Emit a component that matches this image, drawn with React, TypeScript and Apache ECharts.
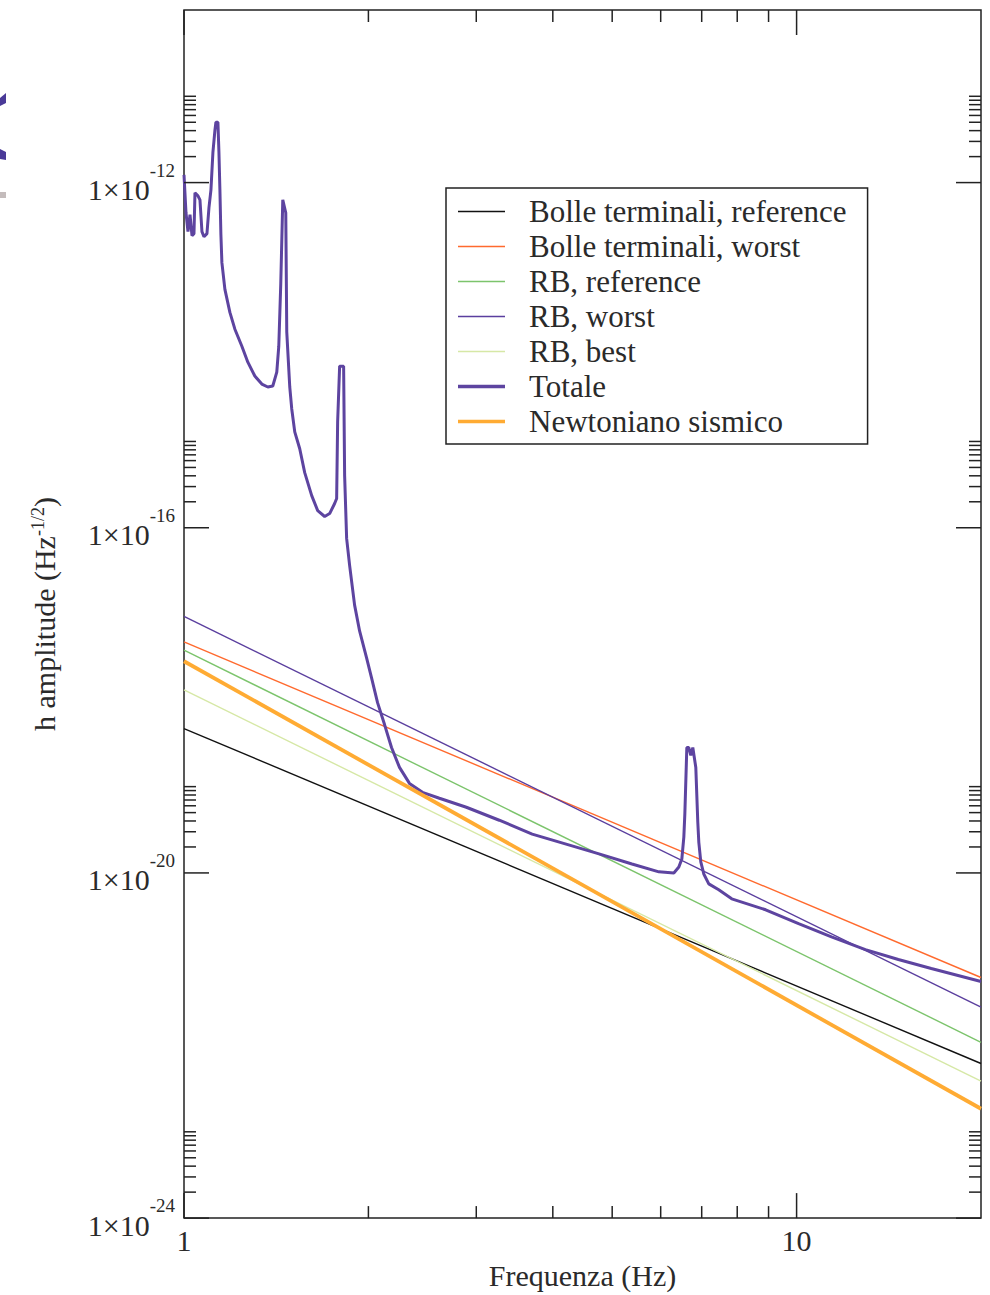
import React, { useEffect, useRef } from "react";
import * as echarts from "echarts";

// ---- Data ----
const seriesNames = [
  "Bolle terminali, reference",
  "Bolle terminali, worst",
  "RB, reference",
  "RB, worst",
  "RB, best",
  "Totale",
  "Newtoniano sismico",
];

// straight power-law lines: values at 1 Hz and 20 Hz
const lineFreqs = [1, 20];
const bolleReference = [4.71e-19, 6.19e-23];
const bolleWorst = [4.75e-18, 6.14e-22];
const rbReference = [3.81e-18, 1.09e-22];
const rbWorst = [9.4e-18, 2.79e-22];
const rbBest = [1.32e-18, 3.87e-23];
const newtoniano = [2.84e-18, 1.85e-23];

// Totale curve
const totaleFreq = [
  1.0, 1.0075, 1.0151, 1.0228, 1.0305, 1.0382, 1.0421, 1.0539, 1.0618, 1.0698,
  1.0779, 1.0901, 1.0983, 1.1066, 1.1149, 1.1233, 1.1275, 1.136, 1.1403, 1.1445,
  1.1488, 1.1531, 1.1662, 1.1883, 1.2108, 1.243, 1.2712, 1.305, 1.3398, 1.3703,
  1.3962, 1.4173, 1.428, 1.4387, 1.4496, 1.466, 1.4715, 1.4881, 1.4993, 1.5163,
  1.545, 1.5742, 1.6161, 1.6529, 1.6968, 1.7289, 1.7616, 1.7749, 1.7816, 1.795,
  1.8221, 1.829, 1.8428, 1.8636, 1.8989, 1.9348, 1.9863, 2.0238, 2.0699, 2.125,
  2.1815, 2.2479, 2.3338, 2.4505, 2.6117, 2.89, 3.2708, 3.7016, 4.205, 4.7588,
  5.3858, 5.9595, 6.3043, 6.4237, 6.4964, 6.5453, 6.5699, 6.6194, 6.6692, 6.7194,
  6.77, 6.8466, 6.8981, 6.924, 6.9762, 7.0551, 7.1887, 7.4633, 7.8362, 8.9019,
  10.075, 11.402, 12.953, 14.659, 16.59, 20,
];
const totaleAmp = [
  1.23e-12, 4.47e-13, 2.7e-13, 4.24e-13, 2.43e-13, 2.56e-13, 7.6e-13, 7.03e-13, 6.31e-13, 2.7e-13,
  2.36e-13, 2.56e-13, 5.1e-13, 8.24e-13, 2.26e-12, 4.06e-12, 5.01e-12, 5.01e-12, 2.26e-12, 8.24e-13,
  2.49e-13, 1.18e-13, 5.78e-14, 3.13e-14, 2.0e-14, 1.27e-14, 8.3e-15, 5.73e-15, 4.63e-15, 4.28e-15,
  4.39e-15, 6.37e-15, 1.27e-14, 6.78e-14, 6.31e-13, 4.47e-13, 1.85e-14, 4.28e-15, 2.38e-15, 1.29e-15,
  8.23e-16, 4.35e-16, 2.36e-16, 1.58e-16, 1.35e-16, 1.46e-16, 1.91e-16, 2.18e-16, 1.69e-15, 7.46e-15,
  7.46e-15, 4.02e-16, 7.53e-17, 3.67e-17, 1.27e-17, 6.37e-18, 3.1e-18, 1.82e-18, 9.4e-19, 5.24e-19,
  2.84e-19, 1.67e-19, 1.09e-19, 8.59e-20, 7.33e-20, 5.77e-20, 4.08e-20, 2.82e-20, 2.16e-20, 1.66e-20,
  1.27e-20, 1.03e-20, 1.0e-20, 1.17e-20, 1.45e-20, 2.6e-20, 4.8e-20, 2.84e-19, 2.84e-19, 2.3e-19,
  2.84e-19, 1.67e-19, 3.87e-20, 2.28e-20, 1.34e-20, 9.73e-21, 7.46e-21, 6.37e-21, 5.01e-21, 3.74e-21,
  2.58e-21, 1.82e-21, 1.29e-21, 9.91e-22, 7.8e-22, 5.52e-22,
];

// axes: x is a log axis; y is shown on a log10 (exponent) scale
const xMin = 1;
const xMax = 20;
const yMinExp = -24;
const yMaxExp = -10;
const yMajorEvery = 4;
const yMajorTicks = [1e-24, 1e-20, 1e-16, 1e-12];
const yMinorMultipliers = [2, 3, 4, 5, 6, 7, 8, 9, 10];
const xMajorTicks = [1, 10];
const xMinorTicks = [2, 3, 4, 5, 6, 7, 8, 9];

const colors = {
  bolleReference: "#111111",
  bolleWorst: "#ff6a2e",
  rbReference: "#7cc46c",
  rbWorst: "#5a3e9e",
  rbBest: "#d6e8a6",
  totale: "#5d44a0",
  newtoniano: "#ffab33",
};

export default function App() {
  const ref = useRef<HTMLDivElement>(null);

  useEffect(() => {
    if (!ref.current) return;
    const chart = echarts.init(ref.current, undefined, { renderer: "svg" });
    const serif = '"Liberation Serif", "Times New Roman", serif';
    const textColor = "#2a2a2a";
    const pairs = (xs: number[], ys: number[]) => xs.map((x, i) => [x, Math.log10(ys[i])]);

    const tickData: number[][] = [];
    yMajorTicks.forEach((m) => {
      tickData.push([xMin, Math.log10(m), 0, 25]);
      yMinorMultipliers.forEach((k) => tickData.push([xMin, Math.log10(m * k), 0, 12]));
    });
    xMajorTicks.forEach((f) => tickData.push([f, yMinExp, 1, 25]));
    xMinorTicks.forEach((f) => tickData.push([f, yMinExp, 1, 12]));

    const lineSeries = (name: string, data: number[][], color: string, width: number, z: number) => ({
      type: "line",
      name,
      data,
      showSymbol: false,
      symbol: "none",
      z,
      lineStyle: { color, width },
      itemStyle: { color },
      emphasis: { disabled: true },
    });

    const thin = "path://M0,0H47V1.5H0Z";
    const thick = "path://M0,0H47V3.5H0Z";
    const legendIcons = [thin, thin, thin, thin, thin, thick, thick];

    const tickStyle = { stroke: "#222222", lineWidth: 1.5 };

    chart.setOption({
      animation: false,
      backgroundColor: "#ffffff",
      grid: {
        left: 184,
        top: 10,
        width: 797,
        height: 1214,
        containLabel: false,
        show: true,
        borderColor: "#222222",
        borderWidth: 1.5,
        backgroundColor: "transparent",
      },
      xAxis: {
        type: "log",
        logBase: 10,
        min: xMin,
        max: xMax,
        name: "Frequenza (Hz)",
        nameLocation: "middle",
        nameGap: 34,
        nameTextStyle: { fontFamily: serif, fontSize: 30, color: textColor },
        axisLine: { show: false },
        axisTick: { show: false },
        splitLine: { show: false },
        minorTick: { show: false },
        axisLabel: {
          showMaxLabel: false,
          margin: 7,
          fontFamily: serif,
          fontSize: 30,
          color: textColor,
          formatter: (v: number) => String(Math.round(v)),
        },
      },
      yAxis: {
        type: "value",
        min: yMinExp,
        max: yMaxExp,
        interval: yMajorEvery,
        name: "h amplitude (Hz{s|-1/2})",
        nameLocation: "middle",
        nameGap: 125,
        nameTextStyle: {
          fontFamily: serif,
          fontSize: 30,
          color: textColor,
          rich: {
            s: { fontFamily: serif, fontSize: 18, color: textColor, verticalAlign: "top" },
          },
        },
        axisLine: { show: false },
        axisTick: { show: false },
        splitLine: { show: false },
        minorTick: { show: false },
        axisLabel: {
          showMaxLabel: false,
          margin: 9,
          formatter: (v: number) => `{b|1×10}{s|${Math.round(v)}}`,
          rich: {
            b: { fontFamily: serif, fontSize: 30, color: textColor, padding: [14, 0, 0, 0], verticalAlign: "bottom" },
            s: { fontFamily: serif, fontSize: 19, color: textColor, verticalAlign: "top" },
          },
        },
      },
      legend: {
        orient: "vertical",
        left: 446,
        top: 188,
        padding: [8, 21, 7, 12],
        itemWidth: 47,
        itemHeight: 14,
        itemGap: 4,
        symbolKeepAspect: true,
        selectedMode: false,
        borderColor: "#222222",
        borderWidth: 1.5,
        backgroundColor: "#ffffff",
        data: seriesNames.map((name, i) => ({ name, icon: legendIcons[i] })),
        formatter: (name: string) => `{t|${name}}`,
        textStyle: {
          rich: {
            t: { fontFamily: serif, fontSize: 31, color: textColor, padding: [0, 0, 0, 19], lineHeight: 30 },
          },
        },
      },
      graphic: [
        { type: "polygon", shape: { points: [[0, 98], [6, 93], [6, 103], [0, 106]] }, style: { fill: "#4a3a98" } },
        { type: "polygon", shape: { points: [[0, 149], [6, 152], [6, 160], [0, 159]] }, style: { fill: "#4a3a98" } },
        { type: "rect", shape: { x: 0, y: 192, width: 6, height: 6 }, style: { fill: "#c4bcbc" } },
      ],
      series: [
        lineSeries(seriesNames[0], pairs(lineFreqs, bolleReference), colors.bolleReference, 1.4, 2),
        lineSeries(seriesNames[1], pairs(lineFreqs, bolleWorst), colors.bolleWorst, 1.4, 2),
        lineSeries(seriesNames[2], pairs(lineFreqs, rbReference), colors.rbReference, 1.4, 2),
        lineSeries(seriesNames[3], pairs(lineFreqs, rbWorst), colors.rbWorst, 1.4, 2),
        lineSeries(seriesNames[4], pairs(lineFreqs, rbBest), colors.rbBest, 1.4, 2),
        lineSeries(seriesNames[5], pairs(totaleFreq, totaleAmp), colors.totale, 3, 3),
        lineSeries(seriesNames[6], pairs(lineFreqs, newtoniano), colors.newtoniano, 3.8, 3),
        {
          type: "custom",
          name: "ticks",
          data: tickData,
          encode: { x: 0, y: 1 },
          z: 5,
          silent: true,
          clip: false,
          renderItem: (_params: any, api: any) => {
            const kind = api.value(2);
            const len = api.value(3);
            if (kind === 0) {
              const v = api.value(1);
              const a = api.coord([xMin, v]);
              const b = api.coord([xMax, v]);
              return {
                type: "group",
                children: [
                  { type: "line", shape: { x1: a[0], y1: a[1], x2: a[0] + len, y2: a[1] }, style: tickStyle },
                  { type: "line", shape: { x1: b[0] - len, y1: b[1], x2: b[0], y2: b[1] }, style: tickStyle },
                ],
              };
            }
            const f = api.value(0);
            const a = api.coord([f, yMinExp]);
            const b = api.coord([f, yMaxExp]);
            return {
              type: "group",
              children: [
                { type: "line", shape: { x1: a[0], y1: a[1], x2: a[0], y2: a[1] - len }, style: tickStyle },
                { type: "line", shape: { x1: b[0], y1: b[1], x2: b[0], y2: b[1] + len }, style: tickStyle },
              ],
            };
          },
        },
      ],
    });

    return () => {
      chart.dispose();
    };
  }, []);

  return (
    <div
      ref={ref}
      style={{ position: "absolute", left: 0, top: 0, width: 990, height: 1295 }}
    />
  );
}
